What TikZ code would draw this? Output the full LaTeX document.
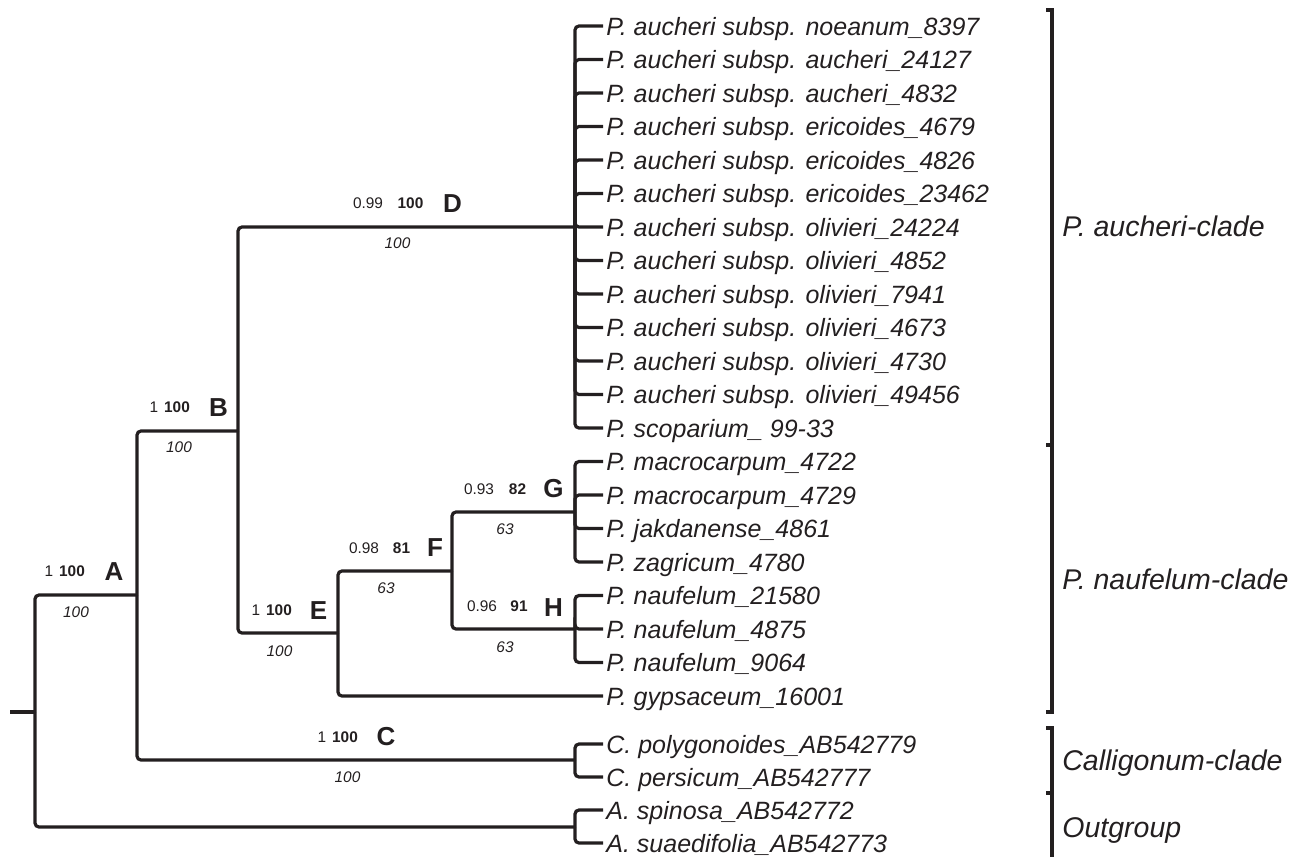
\documentclass[tikz,border=0pt]{standalone}
\usepackage{fontspec}
\setmainfont{Liberation Sans}
\usepackage{tikz}
\definecolor{tree-ink}{RGB}{35, 31, 32}

\begin{document}
\begin{tikzpicture}[
  x=0.5pt, y=-0.5pt,
  branch/.style={line width=1.6pt, rounded corners=2pt, draw=tree-ink},
  bar/.style={line width=1.6pt, draw=tree-ink},
  leaf/.style={anchor=west, inner xsep=1.5pt, inner ysep=0pt, text height=9pt, text depth=0pt,
               font=\fontsize{12.5}{14}\selectfont\itshape, text=tree-ink},
  clade/.style={anchor=west, inner sep=0pt, text height=10.2pt, text depth=0pt,
                font=\fontsize{14.25}{16}\selectfont\itshape, text=tree-ink},
  pp/.style={inner sep=0pt, text height=5.5pt, text depth=0pt,
             font=\fontsize{7.7}{9}\selectfont, text=tree-ink},
  bs/.style={pp, font=\fontsize{7.7}{9}\selectfont\bfseries},
  ml/.style={pp, font=\fontsize{7.7}{9}\selectfont\itshape},
  nodeid/.style={inner sep=0pt, text height=9.3pt, text depth=0pt,
                 font=\fontsize{13}{15}\selectfont\bfseries, text=tree-ink}
]
  \useasboundingbox (0,0) rectangle (1293,857);

  % internal nodes
  \coordinate (stub) at (10,712);
  \coordinate (root) at (35,712);
  \coordinate (A)    at (137,595);
  \coordinate (B)    at (238,431);
  \coordinate (C)    at (575,760);
  \coordinate (D)    at (575,227);
  \coordinate (E)    at (338,633);
  \coordinate (F)    at (452,571);
  \coordinate (G)    at (575,512);
  \coordinate (H)    at (575,629);
  \coordinate (O)    at (575,827);

  % leaves
  \node[leaf] (noe)  at (603,26)    {P. aucheri subsp. noeanum\_8397};
  \node[leaf] (auc1) at (603,59.5)  {P. aucheri subsp. aucheri\_24127};
  \node[leaf] (auc2) at (603,93)    {P. aucheri subsp. aucheri\_4832};
  \node[leaf] (eri1) at (603,126.5) {P. aucheri subsp. ericoides\_4679};
  \node[leaf] (eri2) at (603,160)   {P. aucheri subsp. ericoides\_4826};
  \node[leaf] (eri3) at (603,193.5) {P. aucheri subsp. ericoides\_23462};
  \node[leaf] (oli1) at (603,227)   {P. aucheri subsp. olivieri\_24224};
  \node[leaf] (oli2) at (603,260.5) {P. aucheri subsp. olivieri\_4852};
  \node[leaf] (oli3) at (603,294)   {P. aucheri subsp. olivieri\_7941};
  \node[leaf] (oli4) at (603,327.5) {P. aucheri subsp. olivieri\_4673};
  \node[leaf] (oli5) at (603,361)   {P. aucheri subsp. olivieri\_4730};
  \node[leaf] (oli6) at (603,394.5) {P. aucheri subsp. olivieri\_49456};
  \node[leaf] (sco)  at (603,428)   {P. scoparium\_ 99-33};
  \node[leaf] (mac1) at (603,461.5) {P. macrocarpum\_4722};
  \node[leaf] (mac2) at (603,495)   {P. macrocarpum\_4729};
  \node[leaf] (jak)  at (603,528.5) {P. jakdanense\_4861};
  \node[leaf] (zag)  at (603,562)   {P. zagricum\_4780};
  \node[leaf] (nau1) at (603,595.5) {P. naufelum\_21580};
  \node[leaf] (nau2) at (603,629)   {P. naufelum\_4875};
  \node[leaf] (nau3) at (603,662.5) {P. naufelum\_9064};
  \node[leaf] (gyp)  at (603,696)   {P. gypsaceum\_16001};
  \node[leaf] (cpol) at (603,744)   {C. polygonoides\_AB542779};
  \node[leaf] (cper) at (603,777)   {C. persicum\_AB542777};
  \node[leaf] (aspi) at (603,810)   {A. spinosa\_AB542772};
  \node[leaf] (asua) at (603,843)   {A. suaedifolia\_AB542773};

  % branches
  \draw[branch] (stub) -- (root);
  \draw[branch] (root) |- (A);
  \draw[branch] (root) |- (O);
  \draw[branch] (A) |- (B);
  \draw[branch] (A) |- (C);
  \draw[branch] (B) |- (D);
  \draw[branch] (B) |- (E);
  \draw[branch] (E) |- (F);
  \draw[branch] (E) |- (gyp.west);
  \draw[branch] (F) |- (G);
  \draw[branch] (F) |- (H);
  \foreach \l in {noe,auc1,auc2,eri1,eri2,eri3,oli1,oli2,oli3,oli4,oli5,oli6,sco}
    \draw[branch] (D) |- (\l.west);
  \foreach \l in {mac1,mac2,jak,zag}
    \draw[branch] (G) |- (\l.west);
  \foreach \l in {nau1,nau2,nau3}
    \draw[branch] (H) |- (\l.west);
  \draw[branch] (C) |- (cpol.west);
  \draw[branch] (C) |- (cper.west);
  \draw[branch] (O) |- (aspi.west);
  \draw[branch] (O) |- (asua.west);

  % support values
  \node[pp] (ppA) at (49,571)    {1};
  \node[bs] (bsA) at (72,571)    {100};
  \node[nodeid] (idA) at (114,571) {A};
  \node[ml] (mlA) at (76,612)    {100};
  \node[pp] (ppB) at (154,407)   {1};
  \node[bs] (bsB) at (177,407)   {100};
  \node[nodeid] (idB) at (218.5,407) {B};
  \node[ml] (mlB) at (179,447)   {100};
  \node[pp] (ppD) at (368,203)   {0.99};
  \node[bs] (bsD) at (410.5,203) {100};
  \node[nodeid] (idD) at (452.5,203) {D};
  \node[ml] (mlD) at (397.5,243) {100};
  \node[pp] (ppE) at (256,610)   {1};
  \node[bs] (bsE) at (279,610)   {100};
  \node[nodeid] (idE) at (318.5,610) {E};
  \node[ml] (mlE) at (279.5,651) {100};
  \node[pp] (ppF) at (364,548)   {0.98};
  \node[bs] (bsF) at (401.5,548) {81};
  \node[nodeid] (idF) at (435,547) {F};
  \node[ml] (mlF) at (386,588)   {63};
  \node[pp] (ppG) at (479,489)   {0.93};
  \node[bs] (bsG) at (517.5,489) {82};
  \node[nodeid] (idG) at (553.5,488) {G};
  \node[ml] (mlG) at (505,529)   {63};
  \node[pp] (ppH) at (482,606)   {0.96};
  \node[bs] (bsH) at (519,606)   {91};
  \node[nodeid] (idH) at (553.5,607) {H};
  \node[ml] (mlH) at (505,647)   {63};
  \node[pp] (ppC) at (322,737)   {1};
  \node[bs] (bsC) at (345,737)   {100};
  \node[nodeid] (idC) at (386,736) {C};
  \node[ml] (mlC) at (347.5,777) {100};

  % clade bars
  \draw[bar] (1046,10) -| (1052,712) -- (1046,712);
  \draw[bar] (1046,445) -- (1052,445);
  \draw[bar] (1046,728) -| (1052,857);
  \draw[bar] (1046,793) -- (1052,793);
  \node[clade] (aucl) at (1062,226) {P. aucheri-clade};
  \node[clade] (naucl) at (1062,579) {P. naufelum-clade};
  \node[clade] (calcl) at (1062,760) {Calligonum-clade};
  \node[clade] (outcl) at (1062,827) {Outgroup};
\end{tikzpicture}
\end{document}
